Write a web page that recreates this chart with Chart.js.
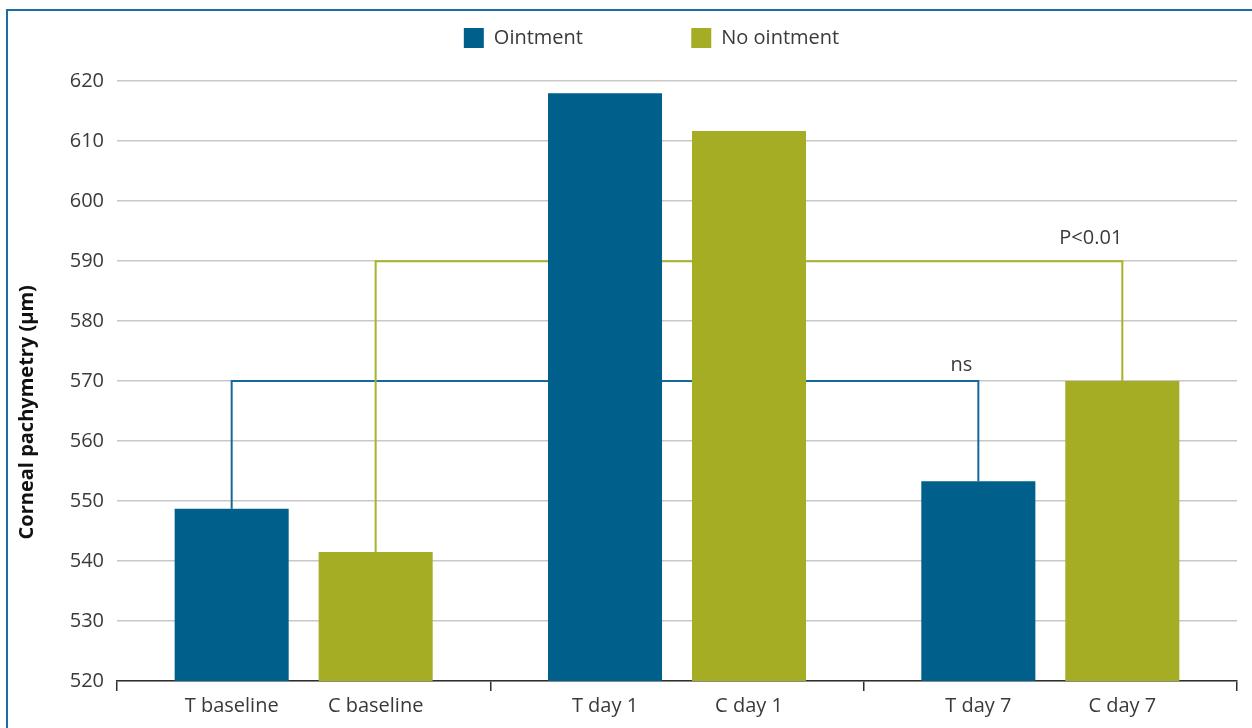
<!DOCTYPE html>
<html>
<head>
<meta charset="utf-8">
<script src="https://cdn.jsdelivr.net/npm/chart.js@4"></script>
<style>
  html, body { margin: 0; padding: 0; background: #fff; }
  #wrap { position: relative; width: 1252px; height: 728px; }
</style>
</head>
<body>
<div id="wrap"><canvas id="pachyChart" width="1252" height="728"></canvas></div>
<script>
// Données
const groups = ['baseline', 'day 1', 'day 7'];
const labelsT = ['T baseline', 'T day 1', 'T day 7'];
const labelsC = ['C baseline', 'C day 1', 'C day 7'];
const ointment = [548.7, 618.0, 553.3];
const noOintment = [541.5, 611.7, 570.0];
const bracketLevels = [570, 590];
const bracketTexts = ['ns', 'P<0.01'];
const yTicks = [520, 530, 540, 550, 560, 570, 580, 590, 600, 610, 620];

const BLUE = '#015f8b';
const GREEN = '#a4ad23';
const TEXT = '#3a3a3a';
const FONT = "'Open Sans', 'DejaVu Sans', sans-serif";

// cadre bleu (haut + gauche)
const framePlugin = {
  id: 'frame',
  beforeDraw(chart) {
    const ctx = chart.ctx;
    ctx.save();
    ctx.strokeStyle = '#1c6ca6';
    ctx.lineWidth = 2;
    ctx.beginPath();
    ctx.moveTo(7, 728);
    ctx.lineTo(7, 10);
    ctx.lineTo(1252, 10);
    ctx.stroke();
    ctx.restore();
  }
};

// décale la légende pour la centrer comme l'original
const legendShift = {
  id: 'legendShift',
  afterLayout(chart) {
    if (chart.legend) chart.legend.left += 56;
  }
};

// crochets de comparaison (derrière les barres)
const bracketPlugin = {
  id: 'brackets',
  beforeDatasetsDraw(chart) {
    const ctx = chart.ctx;
    const y = chart.scales.y;
    const styles = [
      { ds: 0, color: '#15679c', textDy: 10, textDx: -6 },
      { ds: 1, color: '#a8b22a', textDy: 17, textDx: 0 }
    ];
    ctx.save();
    styles.forEach((s, i) => {
      const meta = chart.getDatasetMeta(s.ds);
      const values = chart.data.datasets[s.ds].data;
      const first = meta.data[0];
      const last = meta.data[meta.data.length - 1];
      const level = y.getPixelForValue(bracketLevels[i]);
      ctx.strokeStyle = s.color;
      ctx.lineWidth = 2;
      ctx.beginPath();
      ctx.moveTo(first.x, y.getPixelForValue(values[0]));
      ctx.lineTo(first.x, level);
      ctx.lineTo(last.x, level);
      ctx.lineTo(last.x, y.getPixelForValue(values[values.length - 1]));
      ctx.stroke();
      ctx.fillStyle = TEXT;
      ctx.font = '20px ' + FONT;
      ctx.textAlign = 'right';
      ctx.textBaseline = 'alphabetic';
      ctx.fillText(bracketTexts[i], last.x + s.textDx, level - s.textDy);
    });
    ctx.restore();
  }
};

// étiquettes sous chaque barre
const barLabels = {
  id: 'barLabels',
  afterDraw(chart) {
    const ctx = chart.ctx;
    const yPos = chart.chartArea.bottom + 25;
    ctx.save();
    ctx.fillStyle = TEXT;
    ctx.font = '20px ' + FONT;
    ctx.textAlign = 'center';
    ctx.textBaseline = 'middle';
    [labelsT, labelsC].forEach((labels, d) => {
      chart.getDatasetMeta(d).data.forEach((bar, i) => {
        ctx.fillText(labels[i], bar.x, yPos);
      });
    });
    ctx.restore();
  }
};

const ctx = document.getElementById('pachyChart').getContext('2d');
new Chart(ctx, {
  type: 'bar',
  data: {
    labels: groups,
    datasets: [
      {
        label: 'Ointment' + ' '.repeat(17),
        data: ointment,
        backgroundColor: BLUE,
        borderWidth: 0
      },
      {
        label: 'No ointment',
        data: noOintment,
        backgroundColor: GREEN,
        borderWidth: 0
      }
    ]
  },
  options: {
    responsive: false,
    animation: false,
    categoryPercentage: 0.7714,
    barPercentage: 0.792,
    layout: { padding: { left: 10, top: 8, right: 15, bottom: 0 } },
    plugins: {
      legend: {
        position: 'top',
        labels: {
          boxWidth: 20,
          boxHeight: 20,
          padding: 20,
          color: TEXT,
          font: { family: FONT, size: 20 }
        }
      },
      // espace vide entre la légende et la zone du graphique
      subtitle: {
        display: true,
        text: '',
        weight: 500,
        font: { size: 1 },
        padding: { top: 11, bottom: 11 }
      },
      tooltip: { enabled: false }
    },
    scales: {
      x: {
        offset: true,
        grid: {
          offset: true,
          drawOnChartArea: false,
          drawTicks: true,
          tickLength: 10,
          color: '#2e2e2e',
          lineWidth: 1.5
        },
        border: { display: true, color: '#2e2e2e', width: 1.5 },
        ticks: { display: false },
        afterFit(scale) { scale.height = 47; }
      },
      y: {
        min: 520,
        max: 620,
        afterBuildTicks(scale) { scale.ticks = yTicks.map(v => ({ value: v })); },
        grid: { color: '#c8c8c8', lineWidth: 1.5, drawTicks: false },
        border: { display: false },
        ticks: {
          padding: 13,
          color: TEXT,
          font: { family: FONT, size: 20 }
        },
        title: {
          display: true,
          text: 'Corneal pachymetry (µm)' + ' '.repeat(12),
          color: '#111',
          font: { family: FONT, size: 20, weight: 'bold' },
          padding: { top: 5, bottom: 4 }
        },
        afterFit(scale) { scale.width = 107; }
      }
    }
  },
  plugins: [framePlugin, legendShift, bracketPlugin, barLabels]
});
</script>
</body>
</html>
